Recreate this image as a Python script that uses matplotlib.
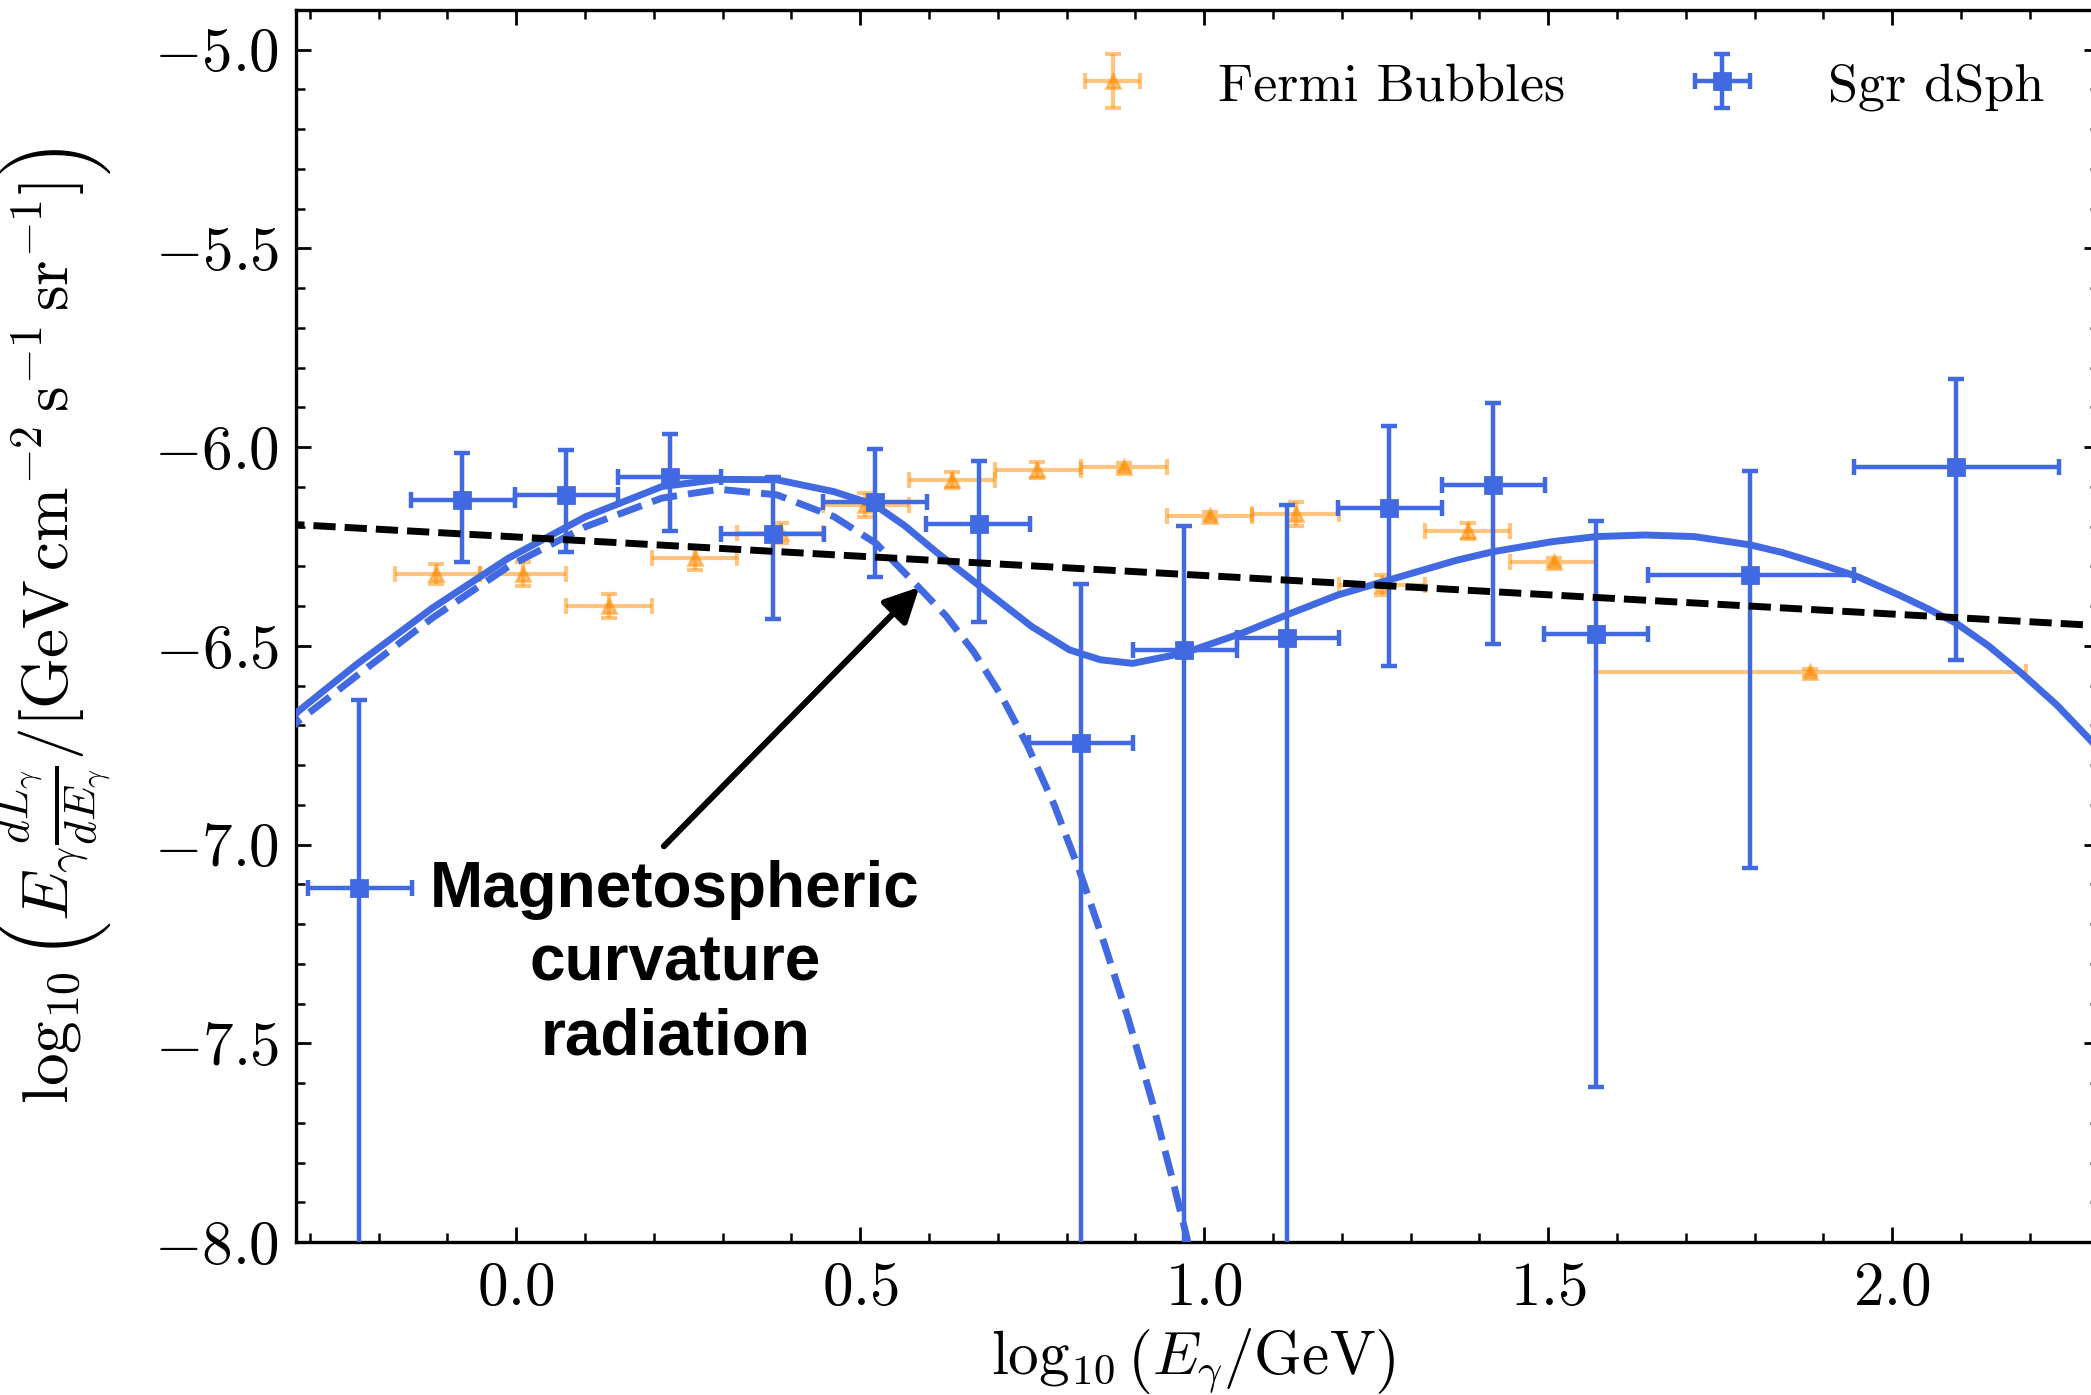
import numpy as np
import matplotlib
matplotlib.use("Agg")
import matplotlib.pyplot as plt
from matplotlib.ticker import MultipleLocator

# Fermi Bubbles points (log10 E, log10 flux) with bin edges and y errors
fb_x = [-0.116, 0.010, 0.135, 0.260, 0.385, 0.507, 0.633, 0.757, 0.883, 1.008, 1.133, 1.258, 1.383, 1.508, 1.880]
fb_y = [-6.319, -6.320, -6.400, -6.279, -6.216, -6.145, -6.082, -6.057, -6.051, -6.173, -6.168, -6.347, -6.212, -6.289, -6.567]
fb_edges = [-0.176, -0.052, 0.073, 0.198, 0.321, 0.446, 0.571, 0.696, 0.821, 0.946, 1.070, 1.196, 1.321, 1.444, 1.569, 2.194]
fb_yerr = [0.025, 0.03, 0.03, 0.03, 0.025, 0.03, 0.02, 0.02, 0.01, 0.01, 0.03, 0.025, 0.02, 0.01, 0.01]

# Sgr dSph points
sgr_x = [-0.229, -0.078, 0.073, 0.223, 0.373, 0.521, 0.672, 0.821, 0.971, 1.120, 1.269, 1.420, 1.570, 1.794, 2.093]
sgr_y = [-7.110, -6.133, -6.120, -6.074, -6.219, -6.137, -6.194, -6.745, -6.510, -6.481, -6.154, -6.095, -6.470, -6.321, -6.050]
sgr_xlo = [-0.302, -0.153, -0.002, 0.148, 0.298, 0.446, 0.596, 0.746, 0.897, 1.047, 1.194, 1.345, 1.494, 1.645, 1.944]
sgr_xhi = [-0.151, -0.002, 0.148, 0.298, 0.447, 0.597, 0.747, 0.897, 1.047, 1.196, 1.345, 1.495, 1.645, 1.944, 2.243]
sgr_ytop = [-6.636, -6.015, -6.007, -5.967, -6.075, -6.005, -6.036, -6.344, -6.198, -6.145, -5.948, -5.889, -6.185, -6.061, -5.829]
sgr_ybot = [-9.0, -6.288, -6.265, -6.212, -6.433, -6.326, -6.440, -9.0, -9.0, -9.0, -6.550, -6.496, -7.610, -7.060, -6.535]

# model curves
total_x = [-0.34, -0.317, -0.233, -0.122, -0.011, 0.101, 0.212, 0.295, 0.379, 0.462, 0.521, 0.565, 0.610, 0.672,
           0.749, 0.804, 0.849, 0.896, 0.971, 1.055, 1.120, 1.194, 1.269, 1.366, 1.420, 1.505, 1.570,
           1.641, 1.712, 1.794, 1.840, 1.891, 1.950, 2.010, 2.050, 2.093, 2.140, 2.188, 2.240, 2.288, 2.31]
total_y = [-6.71, -6.665, -6.548, -6.405, -6.279, -6.175, -6.099, -6.081, -6.082, -6.112, -6.145, -6.198, -6.263, -6.347,
           -6.451, -6.510, -6.535, -6.544, -6.518, -6.468, -6.422, -6.372, -6.334, -6.285, -6.263, -6.238, -6.225,
           -6.221, -6.225, -6.246, -6.265, -6.292, -6.326, -6.372, -6.405, -6.443, -6.500, -6.569, -6.650, -6.737, -6.78]
curv_x = [-0.34, -0.317, -0.233, -0.122, -0.011, 0.101, 0.212, 0.295, 0.379, 0.462, 0.523, 0.582, 0.625,
          0.665, 0.705, 0.743, 0.782, 0.819, 0.855, 0.890, 0.925, 0.955, 0.975, 0.98]
curv_y = [-6.73, -6.690, -6.577, -6.430, -6.300, -6.200, -6.128, -6.106, -6.120, -6.175, -6.242, -6.347, -6.425,
          -6.515, -6.625, -6.750, -6.900, -7.067, -7.250, -7.440, -7.650, -7.850, -7.990, -8.05]
pl_x = [-0.34, 2.31]
pl_y = [-6.193, -6.450]

plt.rcParams.update({
    "font.family": "serif",
    "font.serif": ["cmr10"],
    "mathtext.fontset": "cm",
    "axes.formatter.use_mathtext": True,
    "axes.unicode_minus": True,
    "xtick.direction": "in",
    "ytick.direction": "in",
    "xtick.top": True,
    "ytick.right": True,
})

blue = "#4169e1"
orange = "darkorange"

fig = plt.figure(figsize=(10.455, 6.975), dpi=200)
ax = fig.add_axes([296 / 2091, 1 - 1242 / 1395, 1802.6 / 2091, 1232 / 1395])

fb_xerr = [np.array(fb_x) - np.array(fb_edges[:-1]), np.array(fb_edges[1:]) - np.array(fb_x)]
fb = ax.errorbar(fb_x, fb_y, xerr=fb_xerr, yerr=fb_yerr, fmt="^", color=orange, alpha=0.5,
                 markersize=5, elinewidth=1.5, capsize=2.8, capthick=1.5, label="Fermi Bubbles", zorder=2)

sgr_xerr = [np.array(sgr_x) - np.array(sgr_xlo), np.array(sgr_xhi) - np.array(sgr_x)]
sgr_yerr = [np.array(sgr_y) - np.array(sgr_ybot), np.array(sgr_ytop) - np.array(sgr_y)]
sgr = ax.errorbar(sgr_x, sgr_y, xerr=sgr_xerr, yerr=sgr_yerr, fmt="s", color=blue,
                  markersize=5.5, elinewidth=1.6, capsize=2.8, capthick=1.6, label="Sgr dSph", zorder=3)

ax.plot(total_x, total_y, color=blue, linewidth=2.5, zorder=4)
ax.plot(curv_x, curv_y, color=blue, linewidth=2.5, linestyle="--", zorder=4)
ax.plot(pl_x, pl_y, color="black", linewidth=2.5, linestyle="--", dashes=(3.2, 1.3), zorder=5)

ax.annotate("Magnetospheric\ncurvature\nradiation", xy=(0.586, -6.352), xytext=(0.231, -7.30),
            ha="center", va="center", fontsize=23, fontweight="bold", family="Liberation Sans",
            linespacing=1.3,
            arrowprops=dict(arrowstyle="-|>", color="black", lw=2.2, mutation_scale=26,
                            relpos=(0.45, 1.0), shrinkA=4, shrinkB=0))

ax.set_xlim(-0.32, 2.3)
ax.set_ylim(-8.0, -4.9)
ax.xaxis.set_major_locator(MultipleLocator(0.5))
ax.xaxis.set_minor_locator(MultipleLocator(0.1))
ax.yaxis.set_major_locator(MultipleLocator(0.5))
ax.yaxis.set_minor_locator(MultipleLocator(0.1))
ax.tick_params(which="major", length=5.5, width=1.0, labelsize=22)
ax.tick_params(which="minor", length=3.2, width=0.9)
ax.tick_params(axis="x", which="major", pad=7)
ax.tick_params(axis="y", which="major", pad=6)
for s in ax.spines.values():
    s.set_linewidth(1.2)

ax.set_xlabel(r"$\log_{10}\left(E_\gamma/\mathrm{GeV}\right)$", fontsize=22)
ax.set_ylabel(r"$\log_{10}\left(E_\gamma\frac{dL_\gamma}{dE_\gamma}/[\mathrm{GeV\,cm^{-2}\,s^{-1}\,sr^{-1}}]\right)$",
              fontsize=23.5)
ax.xaxis.set_label_coords(0.498, -0.069)
ax.yaxis.set_label_coords(-0.101, 0.5)

ax.legend(handles=[fb, sgr], loc="upper right", ncol=2, frameon=False, fontsize=19.5,
          handlelength=1.0, handletextpad=1.45, columnspacing=2.4,
          bbox_to_anchor=(0.988, 0.984), borderaxespad=0.2)

fig.savefig("out.png", dpi=200)
